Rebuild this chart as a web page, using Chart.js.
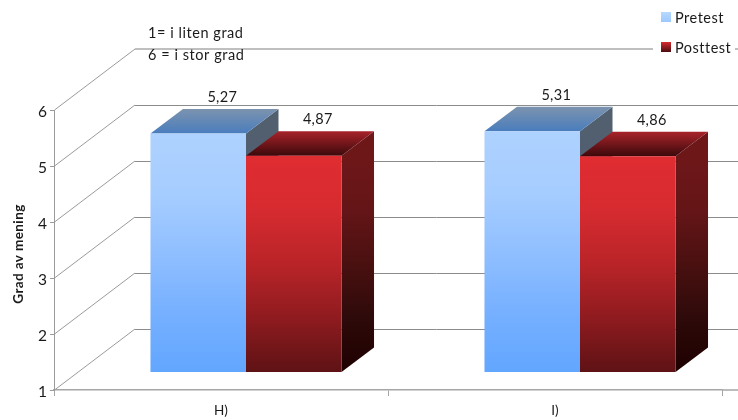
<!DOCTYPE html>
<html>
<head>
<meta charset="utf-8">
<style>
  html, body { margin: 0; padding: 0; background: #fff; }
  #wrap { width: 738px; height: 420px; }
</style>
<script src="https://cdn.jsdelivr.net/npm/chart.js@4"></script>
</head>
<body>
<div id="wrap"><canvas id="chart" width="738" height="420"></canvas></div>
<script>
const categories = ['H)', 'I)'];
const pretest = [5.27, 5.31];
const posttest = [4.87, 4.86];
const scaleNotes = ['1= i liten grad', '6 = i stor grad'];

const FONT = 'Lato, "Open Sans", sans-serif';
const WALL = { dx: 80.5, dy: -61 };    // back wall relative to the axis plane
const PLANE = { dx: 25, dy: -17.5 };   // front of the bars relative to the axis plane
const DEPTH = { dx: 32.5, dy: -24.5 }; // how far the boxes go back

const preColors = {
    front: ['#aed2ff', '#a6cdff', '#90bfff', '#76b0ff', '#62a6ff'],
    side: ['#525f6f', '#3c5a85'],
    top: ['#4a7dbd', '#7c93ae'],
    swatch: ['#b8d8ff', '#9cc8ff']
};
const postColors = {
    front: ['#e02d32', '#d62b30', '#b92428', '#8e1b1f', '#5e1215'],
    side: ['#6e1719', '#651517', '#4a1010', '#2e0a0a', '#1e0000'],
    top: ['#3c090b', '#a8232a'],
    swatch: ['#d62a2f', '#4a0d10']
};

function gradient(ctx, y0, y1, stops) {
    const g = ctx.createLinearGradient(0, y0, 0, y1);
    stops.forEach((c, i) => g.addColorStop(i / (stops.length - 1), c));
    return g;
}

function frontFill(colors) {
    return (c) => {
        const y = c.chart.scales.y;
        if (!y || !c.parsed) return colors[0];
        const y0 = y.getPixelForValue(c.parsed.y);
        const y1 = y.getPixelForValue(1);
        if (!Number.isFinite(y0) || !Number.isFinite(y1)) return colors[0];
        return gradient(c.chart.ctx, y0, y1, colors);
    };
}

function poly(ctx, pts, fill) {
    ctx.beginPath();
    pts.forEach((p, i) => i ? ctx.lineTo(p[0], p[1]) : ctx.moveTo(p[0], p[1]));
    ctx.closePath();
    ctx.fillStyle = fill;
    ctx.fill();
}

function spacedText(ctx, text, x, y, size, spacing, weight) {
    ctx.font = (weight ? weight + ' ' : '') + size + 'px ' + FONT;
    ctx.letterSpacing = spacing + 'px';
    ctx.fillStyle = '#1a1a1a';
    ctx.textBaseline = 'middle';
    ctx.fillText(text, x, y);
    ctx.letterSpacing = '0px';
}

// Slanted floor/wall lines behind the bars, one per y tick
const wallPlugin = {
    id: 'wall',
    // y tick labels sit a little below their tick marks
    afterLayout(chart) {
        const scale = chart.scales.y;
        const drawLabels = scale.drawLabels;
        if (scale.labelsShifted) return;
        scale.labelsShifted = true;
        scale.drawLabels = function(area) {
            chart.ctx.save();
            chart.ctx.translate(0, 2);
            drawLabels.call(scale, area);
            chart.ctx.restore();
        };
    },
    beforeDatasetsDraw(chart) {
        const { ctx, scales: { x, y } } = chart;
        const left = x.left + 0.5;
        ctx.save();
        y.ticks.forEach((t) => {
            const py = y.getPixelForValue(t.value);
            const top = t.value === 6;
            ctx.strokeStyle = '#9a9a9a';
            ctx.lineWidth = 1;
            ctx.beginPath();
            ctx.moveTo(left, py);
            ctx.lineTo(left + WALL.dx, py + WALL.dy);
            ctx.stroke();
            ctx.strokeStyle = top ? '#bfbfbf' : '#8c8c8c';
            ctx.lineWidth = top ? 2 : 1;
            ctx.beginPath();
            ctx.moveTo(left + WALL.dx, py + WALL.dy + (top ? 0 : 0.5));
            ctx.lineTo(738, py + WALL.dy + (top ? 0 : 0.5));
            ctx.stroke();
        });
        // floor line carries on past the last category
        ctx.strokeStyle = '#a6a6a6';
        ctx.lineWidth = 1.5;
        ctx.beginPath();
        ctx.moveTo(x.right, y.bottom);
        ctx.lineTo(738, y.bottom);
        ctx.stroke();
        ctx.restore();
    }
};

// Side and top faces of every box go in first, the library then paints the fronts
const boxPlugin = {
    id: 'box',
    beforeDatasetsDraw(chart) {
        const { ctx } = chart;
        ctx.save();
        ctx.translate(PLANE.dx, PLANE.dy);
        [preColors, postColors].forEach((colors, i) => {
            chart.getDatasetMeta(i).data.forEach((bar) => {
                const l = bar.x - bar.width / 2;
                const r = bar.x + bar.width / 2;
                poly(ctx, [[r, bar.y], [r + DEPTH.dx, bar.y + DEPTH.dy], [r + DEPTH.dx, bar.base + DEPTH.dy], [r, bar.base]],
                    gradient(ctx, bar.y, bar.base, colors.side));
                poly(ctx, [[l, bar.y], [r, bar.y], [r + DEPTH.dx, bar.y + DEPTH.dy], [l + DEPTH.dx, bar.y + DEPTH.dy]],
                    gradient(ctx, bar.y, bar.y + DEPTH.dy, colors.top));
            });
        });
        ctx.restore();
    },
    beforeDatasetDraw(chart) {
        chart.ctx.save();
        chart.ctx.translate(PLANE.dx, PLANE.dy);
    },
    afterDatasetDraw(chart) {
        chart.ctx.restore();
    }
};

// Value labels, axis title, scale note and the legend box
const textPlugin = {
    id: 'texts',
    afterDraw(chart) {
        const { ctx } = chart;
        ctx.save();
        ctx.textAlign = 'center';
        chart.data.datasets.forEach((ds, i) => {
            chart.getDatasetMeta(i).data.forEach((bar, j) => {
                spacedText(ctx, ds.data[j].toFixed(2).replace('.', ','), bar.x + PLANE.dx + 24, bar.y + PLANE.dy - 36, 14.5, 0.3);
            });
        });

        ctx.save();
        ctx.translate(19, 254);
        ctx.rotate(-Math.PI / 2);
        spacedText(ctx, 'Grad av mening', 0, 0, 13.5, 0.4, 'bold');
        ctx.restore();

        ctx.textAlign = 'left';
        spacedText(ctx, scaleNotes[0], 148, 33, 14.5, 0.55);
        spacedText(ctx, scaleNotes[1], 148, 55, 14.5, 0.55);

        ctx.fillStyle = '#fff';
        ctx.fillRect(653, 0, 82, 60);
        [preColors, postColors].forEach((colors, i) => {
            const y = 12 + i * 30;
            ctx.fillStyle = gradient(ctx, y, y + 10, colors.swatch);
            ctx.fillRect(661, y, 10, 10);
            spacedText(ctx, chart.data.datasets[i].label, 675, y + 6, 14.5, 0.5);
        });
        ctx.restore();
    }
};

new Chart(document.getElementById('chart').getContext('2d'), {
    type: 'bar',
    data: {
        labels: categories,
        datasets: [
            { label: 'Pretest', data: pretest, base: 1, backgroundColor: frontFill(preColors.front), clip: false },
            { label: 'Posttest', data: posttest, base: 1, backgroundColor: frontFill(postColors.front), clip: false }
        ]
    },
    options: {
        responsive: false,
        animation: false,
        categoryPercentage: 0.572,
        barPercentage: 1,
        layout: { padding: { top: 110, right: 16, left: 0, bottom: 0 } },
        scales: {
            x: {
                afterFit(scale) { scale.height = 30; },
                grid: { offset: true, drawOnChartArea: false, color: '#a6a6a6', tickLength: 6, tickColor: '#a6a6a6' },
                border: { color: '#a6a6a6', width: 1.5 },
                ticks: { color: '#1a1a1a', font: { family: FONT, size: 13.5 }, padding: 7, maxRotation: 0 }
            },
            y: {
                min: 1,
                max: 6,
                afterFit(scale) { scale.width = 54; },
                grid: { drawOnChartArea: false, color: '#9a9a9a', tickLength: 4 },
                border: { color: '#9a9a9a' },
                ticks: { stepSize: 1, color: '#1a1a1a', font: { family: FONT, size: 15.5 }, padding: 3 }
            }
        },
        plugins: {
            legend: { display: false },
            tooltip: { enabled: false }
        }
    },
    plugins: [wallPlugin, boxPlugin, textPlugin]
});
</script>
</body>
</html>
